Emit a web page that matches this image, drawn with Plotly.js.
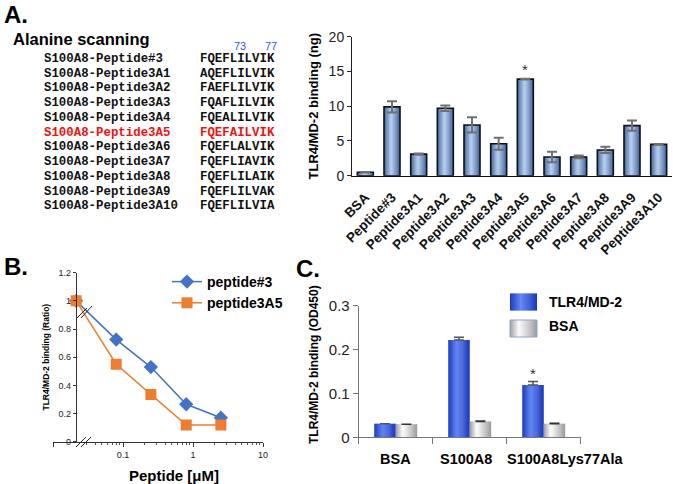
<!DOCTYPE html>
<html>
<head>
<meta charset="utf-8">
<script src="https://cdn.plot.ly/plotly-3.0.1.min.js"></script>
<style>html,body{margin:0;padding:0;background:#fff;}#chart{width:673px;height:484px;}</style>
</head>
<body>
<div id="chart"></div>
<script>
// ---------- Panel A data ----------
const peptideNames = ['S100A8-Peptide#3','S100A8-Peptide3A1','S100A8-Peptide3A2','S100A8-Peptide3A3','S100A8-Peptide3A4','S100A8-Peptide3A5','S100A8-Peptide3A6','S100A8-Peptide3A7','S100A8-Peptide3A8','S100A8-Peptide3A9','S100A8-Peptide3A10'];
const peptideSeqs = ['FQEFLILVIK','AQEFLILVIK','FAEFLILVIK','FQAFLILVIK','FQEALILVIK','FQEFAILVIK','FQEFLALVIK','FQEFLIAVIK','FQEFLILAIK','FQEFLILVAK','FQEFLILVIA'];
const highlightRow = 5;
const catsA = ['BSA','Peptide#3','Peptide3A1','Peptide3A2','Peptide3A3','Peptide3A4','Peptide3A5','Peptide3A6','Peptide3A7','Peptide3A8','Peptide3A9','Peptide3A10'];
const valsA = [0.5, 9.9, 3.1, 9.7, 7.3, 4.6, 13.9, 2.7, 2.7, 3.7, 7.2, 4.5];
const errA  = [0.05, 0.8, 0.1, 0.4, 1.1, 0.85, 0.05, 0.75, 0.2, 0.45, 0.75, 0.05];

// ---------- Panel B data ----------
const doseB = [0.0214, 0.08, 0.25, 0.8, 2.5];
const pep3  = [1.0, 0.725, 0.53, 0.266, 0.17];
const pep3A5 = [1.0, 0.55, 0.336, 0.118, 0.118];

// ---------- Panel C data ----------
const catsC = ['BSA','S100A8','S100A8Lys77Ala'];
const tlrC = [0.031, 0.222, 0.119];
const tlrErrC = [0, 0.006, 0.008];
const bsaC = [0.030, 0.036, 0.031];
const bsaErrC = [0, 0.001, 0.001];

const W = 673, H = 484;
const px = x => x / W;
const py = y => 1 - y / H;
const SANS = 'Liberation Sans, Arial, sans-serif';
const MONO = 'Liberation Mono, Courier New, monospace';

function mix(a, b, t) {
  return 'rgb(' + a.map((v, i) => Math.round(v + (b[i] - v) * t)).join(',') + ')';
}
function gradColor(p, edge, peak, pk) {
  let t = p < pk ? p / pk : (1 - p) / (1 - pk);
  t = Math.pow(Math.max(0, Math.min(1, t)), 0.85);
  return mix(edge, peak, t);
}
function stripTraces(x, y, xa, ya, w, off, N, edge, peak, pk) {
  const out = [];
  for (let i = 0; i < N; i++) {
    out.push({
      type: 'bar', x: x, y: y, xaxis: xa, yaxis: ya,
      width: Math.min(w / N * 1.6, w - i * w / N), offset: off + i * w / N,
      marker: {color: gradColor((i + 0.5) / N, edge, peak, pk), line: {width: 0}},
      showlegend: false, hoverinfo: 'skip'
    });
  }
  return out;
}

const traces = [];
// Panel A bars (gradient strips + outline with error bars)
const wA = 0.6;
traces.push(...stripTraces(catsA, valsA, 'x', 'y', wA, -wA / 2, 16, [55, 88, 150], [185, 208, 240], 0.45));
traces.push({
  type: 'bar', x: catsA, y: valsA, xaxis: 'x', yaxis: 'y', width: wA, offset: -wA / 2,
  marker: {color: 'rgba(0,0,0,0)', line: {color: '#111', width: 1.6}},
  error_y: {type: 'data', array: errA, visible: true, color: '#707070', thickness: 2, width: 5},
  showlegend: false, name: 'TLR4/MD-2 binding (ng)'
});

// Panel B lines
traces.push({
  type: 'scatter', mode: 'lines+markers', x: doseB, y: pep3, xaxis: 'x2', yaxis: 'y2',
  name: 'peptide#3', line: {color: '#4472C4', width: 1.5},
  marker: {symbol: 'diamond', size: 11, color: '#4472C4'}
});
traces.push({
  type: 'scatter', mode: 'lines+markers', x: doseB, y: pep3A5, xaxis: 'x2', yaxis: 'y2',
  name: 'peptide3A5', line: {color: '#ED7D31', width: 1.5},
  marker: {symbol: 'square', size: 11, color: '#ED7D31'}
});

// Panel C bars
const wC = 0.29;
traces.push(...stripTraces(catsC, tlrC, 'x3', 'y3', wC, -wC, 20, [24, 52, 182], [100, 135, 242], 0.4));
traces.push(...stripTraces(catsC, bsaC, 'x3', 'y3', wC, 0, 20, [150, 150, 150], [252, 252, 252], 0.33));
traces.push({
  type: 'bar', x: catsC, y: tlrC, xaxis: 'x3', yaxis: 'y3', width: wC, offset: -wC,
  marker: {color: 'rgba(0,0,0,0)', line: {width: 0}}, name: 'TLR4/MD-2', showlegend: false,
  error_y: {type: 'data', symmetric: false, array: tlrErrC, arrayminus: [0, 0, 0], color: '#555', thickness: 1.5, width: 5}
});
traces.push({
  type: 'bar', x: catsC, y: bsaC, xaxis: 'x3', yaxis: 'y3', width: wC, offset: 0,
  marker: {color: 'rgba(0,0,0,0)', line: {width: 0}}, name: 'BSA', showlegend: false,
  error_y: {type: 'data', symmetric: false, array: bsaErrC, arrayminus: [0, 0, 0], color: '#333', thickness: 1.5, width: 5}
});

// ---------- annotations ----------
const ann = [];
ann.push({text: 'A.', x: px(2), y: py(14), xref: 'paper', yref: 'paper', xanchor: 'left', yanchor: 'middle', showarrow: false, font: {family: SANS, size: 24, weight: 'bold', color: '#000'}});
ann.push({text: 'Alanine scanning', x: px(11), y: py(38.5), xref: 'paper', yref: 'paper', xanchor: 'left', yanchor: 'middle', showarrow: false, font: {family: SANS, size: 16.5, weight: 'bold', color: '#000'}});
ann.push({text: '73', x: px(240), y: py(46), xref: 'paper', yref: 'paper', xanchor: 'center', yanchor: 'middle', showarrow: false, font: {family: SANS, size: 11, color: '#3b4cff'}});
ann.push({text: '77', x: px(271), y: py(46), xref: 'paper', yref: 'paper', xanchor: 'center', yanchor: 'middle', showarrow: false, font: {family: SANS, size: 11, color: '#3b4cff'}});
peptideNames.forEach((nm, i) => {
  const yy = 58.8 + i * 14.75;
  const col = i === highlightRow ? '#ee1111' : '#111';
  ann.push({text: nm, x: px(42), y: py(yy), xref: 'paper', yref: 'paper', xanchor: 'left', yanchor: 'middle', showarrow: false, font: {family: MONO, size: 12.4, weight: 'bold', color: col}});
  ann.push({text: peptideSeqs[i], x: px(198), y: py(yy), xref: 'paper', yref: 'paper', xanchor: 'left', yanchor: 'middle', showarrow: false, font: {family: MONO, size: 12.4, weight: 'bold', color: col}});
});
ann.push({text: '*', x: 'Peptide3A5', y: 15.3, xref: 'x', yref: 'y', showarrow: false, font: {family: SANS, size: 15, color: '#333'}});
ann.push({text: 'B.', x: px(2), y: py(266), xref: 'paper', yref: 'paper', xanchor: 'left', yanchor: 'middle', showarrow: false, font: {family: SANS, size: 24, weight: 'bold', color: '#000'}});
ann.push({text: 'C.', x: px(294), y: py(268), xref: 'paper', yref: 'paper', xanchor: 'left', yanchor: 'middle', showarrow: false, font: {family: SANS, size: 24, weight: 'bold', color: '#000'}});
ann.push({text: 'Peptide [μM]', x: px(174), y: py(475), xref: 'paper', yref: 'paper', xanchor: 'center', yanchor: 'middle', showarrow: false, font: {family: SANS, size: 15, weight: 'bold', color: '#000'}});
ann.push({text: 'TLR4/MD-2 binding (OD450)', x: px(314), y: py(365), xref: 'paper', yref: 'paper', xanchor: 'center', yanchor: 'middle', textangle: -90, showarrow: false, font: {family: SANS, size: 12, weight: 'bold', color: '#000'}});
// C category labels (the long third label sits right of its category in the reference)
const labelShiftC = [0, -4, 21];
catsC.forEach((c, i) => {
  ann.push({text: c, x: c, y: py(459), xref: 'x3', yref: 'paper', xshift: labelShiftC[i], yanchor: 'middle', showarrow: false, font: {family: SANS, size: 14.5, weight: 'bold', color: '#000'}});
});
ann.push({text: '*', x: 2, y: 0.145, xref: 'x3', yref: 'y3', xshift: -10.5, showarrow: false, font: {family: SANS, size: 15, color: '#333'}});
ann.push({text: 'TLR4/MD-2', x: px(547), y: py(302), xref: 'paper', yref: 'paper', xanchor: 'left', yanchor: 'middle', showarrow: false, font: {family: SANS, size: 14, weight: 'bold', color: '#000'}});
ann.push({text: 'BSA', x: px(547), y: py(326), xref: 'paper', yref: 'paper', xanchor: 'left', yanchor: 'middle', showarrow: false, font: {family: SANS, size: 14, weight: 'bold', color: '#000'}});

// ---------- shapes (axis breaks, legend swatches for C) ----------
const shapes = [];
function line(x0, y0, x1, y1, c, w) {
  shapes.push({type: 'line', xref: 'paper', yref: 'paper', x0: px(x0), y0: py(y0), x1: px(x1), y1: py(y1), line: {color: c, width: w}});
}
line(77, 318, 87, 308, '#222', 1);
line(81, 318, 92, 306, '#222', 1);
line(76, 447, 86, 437, '#222', 1);
line(81, 447, 91, 437, '#222', 1);
function swatch(x0, y0, x1, y1, edge, peak, pk, border) {
  const N = 24;
  for (let i = 0; i < N; i++) {
    shapes.push({type: 'rect', xref: 'paper', yref: 'paper',
      x0: px(x0 + (x1 - x0) * i / N), x1: px(x0 + (x1 - x0) * Math.min(N, i + 1.6) / N), y0: py(y0), y1: py(y1),
      fillcolor: gradColor((i + 0.5) / N, edge, peak, pk), line: {width: 0}});
  }
  if (border) shapes.push({type: 'rect', xref: 'paper', yref: 'paper', x0: px(x0), x1: px(x1), y0: py(y0), y1: py(y1), line: {color: border, width: 1}});
}
swatch(510, 293.5, 537, 310.5, [24, 52, 182], [100, 135, 242], 0.4, null);
swatch(510, 320, 537, 337, [150, 150, 150], [252, 252, 252], 0.33, '#8da6cf');

const minorB = [];
[0.01, 0.1, 1].forEach(d => { for (let k = 2; k <= 9; k++) { const v = d * k; if (v > 0.025) minorB.push(v); } });

const layout = {
  width: W, height: H, autosize: false,
  margin: {l: 0, r: 0, t: 0, b: 0},
  paper_bgcolor: '#fff', plot_bgcolor: 'rgba(0,0,0,0)',
  barmode: 'overlay',
  font: {family: SANS, color: '#000'},
  showlegend: true,
  legend: {x: px(167), y: py(266), xanchor: 'left', yanchor: 'top', bgcolor: 'rgba(0,0,0,0)',
    font: {family: SANS, size: 14, weight: 'bold', color: '#000'}, itemwidth: 30, tracegroupgap: 0},
  xaxis: {domain: [px(352), px(672)], anchor: 'y', type: 'category', categoryorder: 'array', categoryarray: catsA,
    range: [-0.5, 11.5], showline: true, linecolor: '#111', linewidth: 1.5, ticks: '', tickangle: -45, ticklabelstandoff: 7,
    tickfont: {family: SANS, size: 13.5, weight: 'bold', color: '#111'}, showgrid: false, zeroline: false},
  yaxis: {domain: [py(175.7), py(36.7)], anchor: 'x', range: [0, 20], dtick: 5, showline: true, linecolor: '#222', linewidth: 1,
    ticks: 'outside', ticklen: 4, tickcolor: '#222', tickfont: {family: SANS, size: 14, color: '#222'},
    showgrid: false, zeroline: false,
    title: {text: 'TLR4/MD-2 binding (ng)', font: {family: SANS, size: 13, weight: 'bold', color: '#000'}, standoff: 7}},
  xaxis2: {domain: [px(53), px(263)], anchor: 'y2', type: 'log', range: [-2, 1], tickvals: [0.01, 0.1, 1, 10], ticktext: ['', '0.1', '1', '10'],
    showline: true, linecolor: '#333', linewidth: 1, ticks: 'outside', ticklen: 4, tickcolor: '#333',
    tickfont: {family: SANS, size: 9, color: '#222'},
    minor: {tickvals: minorB, ticks: 'outside', ticklen: 2, tickcolor: '#555', showgrid: false},
    showgrid: false, zeroline: false},
  yaxis2: {domain: [py(441.7), py(272.7)], anchor: 'free', position: px(75.7), range: [0, 1.2], dtick: 0.2,
    showline: true, linecolor: '#333', linewidth: 1, ticks: 'outside', ticklen: 3, tickcolor: '#333',
    tickfont: {family: SANS, size: 9, color: '#222'}, showgrid: false, zeroline: false,
    title: {text: 'TLR4/MD-2 binding (Ratio)', font: {family: SANS, size: 8.5, weight: 'bold', color: '#000'}, standoff: 6}},
  xaxis3: {domain: [px(358.7), px(580.7)], anchor: 'y3', type: 'category', categoryorder: 'array', categoryarray: catsC,
    range: [-0.5, 2.5], showline: true, linecolor: '#777', linewidth: 1, ticks: 'outside', ticklen: 6, tickcolor: '#777', tickson: 'boundaries',
    showticklabels: false, showgrid: false, zeroline: false},
  yaxis3: {domain: [py(437.3), py(305.7)], anchor: 'x3', range: [0, 0.3], dtick: 0.1, showline: true, linecolor: '#777', linewidth: 1,
    ticks: 'outside', ticklen: 5, tickcolor: '#777', tickfont: {family: SANS, size: 15, color: '#222'}, showgrid: false, zeroline: false},
  annotations: ann,
  shapes: shapes
};

Plotly.newPlot('chart', traces, layout, {staticPlot: true, displayModeBar: false});
</script>
</body>
</html>
